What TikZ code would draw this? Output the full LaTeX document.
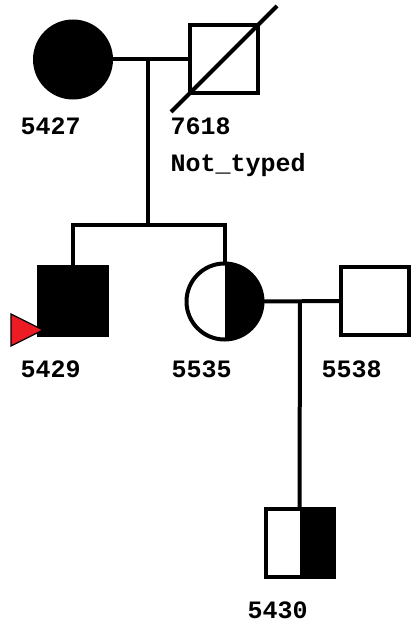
\documentclass[tikz,border=0pt]{standalone}
\usepackage{fontspec}
\setmainfont{Liberation Mono}
\definecolor{probandred}{RGB}{236,28,36}
\begin{document}
\begin{tikzpicture}[x=1pt,y=-1pt,
  ped/.style={line width=4pt,draw=black,inner sep=0pt,outer sep=0pt},
  female/.style={ped,circle,minimum size=76pt},
  male/.style={ped,rectangle,minimum size=68pt},
  affected/.style={fill=black},
  halfright/.style={path picture={\fill[black] (path picture bounding box.north) rectangle (path picture bounding box.south east);}},
  conn/.style={line width=4pt,draw=black},
  lbl/.style={anchor=base west,inner sep=0pt,font=\fontsize{25}{30}\selectfont\bfseries}]
\useasboundingbox (0,0) rectangle (414,628);
% individuals
\node[female,affected] (p5427) at (73,59.5) {};
\node[male] (p7618) at (224,59.5) {};
\node[male,affected] (p5429) at (73,301) {};
\node[female,halfright] (p5535) at (224.5,301.5) {};
\node[male] (p5538) at (375,301) {};
\node[male,halfright] (p5430) at (299.5,543) {};
% deceased slash
\coordinate (dA) at (171,112);
\coordinate (dB) at (277,6);
\draw[line width=4pt] (dA) -- (dB);
% couple 1
\coordinate (u1) at (148,59.5);
\coordinate (sL) at (73,225);
\coordinate (sM) at (148,225);
\coordinate (sR) at (224.5,225);
\draw[conn] (p5427.east) -- (p7618.west);
\draw[conn] (u1) -- (sM);
\draw[conn] ([xshift=-2pt]sL) -- ([xshift=2pt]sR);
\draw[conn] (sL) -- (p5429.north);
\draw[conn] (sR) -- (p5535.north);
% couple 2
\coordinate (u2) at (300,300);
\draw[conn] (p5535.east) -- (p5538.west);
\draw[conn] (u2) -- (p5430.north);
% proband arrow
\filldraw[fill=probandred,draw=black,line width=1.2pt] (11,314) -- (43,330) -- (11,346) -- cycle;
% labels
\node[lbl] (l5427) at (20.5,135) {5427};
\node[lbl] (l7618) at (170.5,135) {7618};
\node[lbl] (lnt) at (170.5,172) {Not\_typed};
\node[lbl] (l5429) at (20.5,377) {5429};
\node[lbl] (l5535) at (171.5,377) {5535};
\node[lbl] (l5538) at (321.5,377) {5538};
\node[lbl] (l5430) at (247.5,618) {5430};
\end{tikzpicture}
\end{document}
